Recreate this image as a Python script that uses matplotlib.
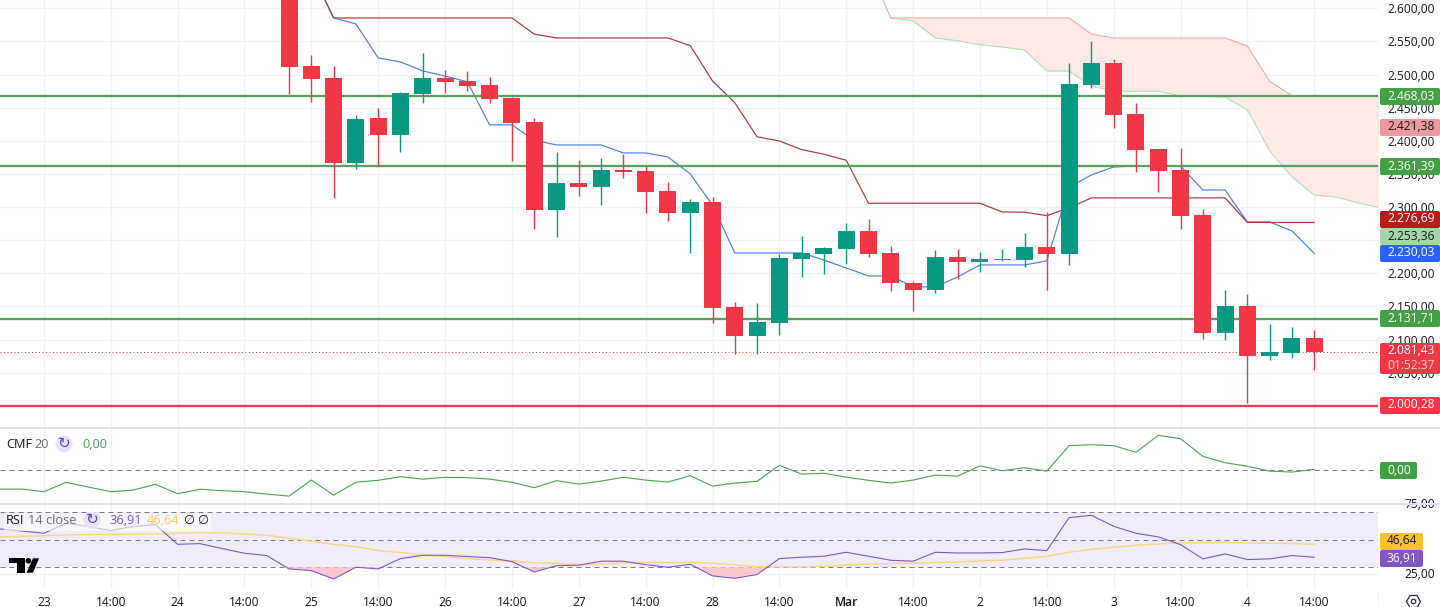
"""Recreates the ETH/USDT style 8h chart with Ichimoku, CMF and RSI panes."""

import matplotlib
matplotlib.use("Agg")
import matplotlib.pyplot as plt
from matplotlib.patches import Circle, FancyBboxPatch, Polygon, Rectangle
import numpy as np

plt.rcParams["font.family"] = ["Open Sans", "DejaVu Sans"]

W, H = 1440, 607

# candles, one per 8h
OPEN = [2673, 2513, 2494.8, 2366.6, 2434.5, 2409, 2470.7, 2494.8, 2490.3, 2484.3, 2464.6, 2428.4,
        2295.7, 2336.4, 2330, 2356, 2354.5, 2324, 2291.6, 2307.7, 2149, 2105.5, 2125, 2221.7,
        2229, 2236.7, 2264, 2230.7, 2186, 2174.3, 2224.7, 2217, 2220, 2220, 2240, 2229,
        2484.3, 2517.5, 2440.5, 2387.7, 2356, 2288, 2110, 2150.8, 2075, 2079, 2102.5]
HIGH = [2690, 2529.5, 2513, 2439, 2449.5, 2473.7, 2532.5, 2507, 2505.4, 2496.3, 2466, 2434.5,
        2383, 2371, 2374, 2380, 2362, 2338, 2312, 2315, 2157, 2154.7, 2229, 2256.4,
        2240, 2276, 2282, 2241, 2189, 2235, 2236.7, 2232, 2236.7, 2261, 2292.6, 2517.5,
        2550.7, 2523.5, 2457, 2387.7, 2389, 2297, 2175, 2169, 2123, 2119, 2114.6]
LOW = [2470.7, 2459, 2313.7, 2357.5, 2362, 2383, 2457, 2472.2, 2475.2, 2457, 2370, 2267,
       2255, 2316.8, 2303, 2344, 2291, 2279, 2230.7, 2125, 2078, 2078, 2107, 2195,
       2199, 2214.4, 2224.7, 2172.8, 2143, 2171, 2192, 2202, 2218.7, 2210, 2174.3, 2213,
       2479.7, 2419.4, 2353, 2322.8, 2267, 2101, 2099.5, 2004, 2069, 2072, 2054]
CLOSE = [2511.4, 2493.3, 2366.6, 2433, 2409, 2472.2, 2494.8, 2488.8, 2482.8, 2463, 2427, 2295.7,
         2336.4, 2330, 2356, 2353, 2322.8, 2291, 2307.7, 2148, 2105.5, 2126, 2223, 2230.7,
         2238, 2264, 2229, 2184.7, 2174.3, 2224.7, 2217, 2221.7, 2221.7, 2240, 2229, 2485.8,
         2517.5, 2439, 2386, 2354.5, 2286.6, 2110, 2150.8, 2075, 2081.5, 2102.5, 2081.4]

# ichimoku, each starts at a given candle number
BASE_START = 1
BASE = [2655, 2585.4, 2585.4, 2585.4, 2585.4, 2585.4, 2585.4, 2585.4, 2585.4, 2585.4, 2561,
        2555.2, 2555.2, 2555.2, 2555.2, 2555.2, 2555.2, 2543.6, 2490.3, 2457.5, 2406, 2399.7,
        2386.7, 2379.7, 2370.6, 2305.7, 2305.7, 2305.7, 2305.7, 2305.7, 2305.7, 2292.6, 2292.2,
        2287, 2298.7, 2313.8, 2313.8, 2313.8, 2313.8, 2313.8, 2313.8, 2313.8, 2276.7, 2276.7,
        2276.7, 2276.7]
CONV_START = 1
CONV = [2655, 2585.4, 2576.3, 2525, 2519, 2505.4, 2497.8, 2489, 2424, 2424, 2401, 2393.7, 2393.7,
        2393.7, 2381.7, 2381.7, 2375.6, 2350, 2303, 2230.7, 2230.7, 2230.7, 2230.7, 2220, 2208,
        2196, 2196, 2179.5, 2179.5, 2194.5, 2212.6, 2212.6, 2212.6, 2218.7, 2330, 2348.5, 2360.5,
        2362, 2362, 2362, 2325.8, 2325.8, 2277.5, 2277.5, 2264, 2230]
SPAN_START = 27
SPAN_A = [2585.4, 2580.8, 2555.2, 2551, 2545, 2541.6, 2537, 2505.4, 2505.4, 2482.8, 2475, 2475,
          2475, 2467.7, 2467, 2466, 2446.6, 2385, 2345.5, 2318, 2315, 2306, 2298.6]
SPAN_B = [2585.4, 2585.4, 2585.4, 2585.4, 2585.4, 2585.4, 2585.4, 2585.4, 2585.4, 2561, 2555.2,
          2555.2, 2555.2, 2555.2, 2555.2, 2555.2, 2543, 2490, 2468, 2468, 2468, 2468, 2468]
SPAN_B_LEAD = 2661

LEVELS_GREEN = [2468.03, 2361.39, 2131.71]
LEVEL_RED = 2000.28
LAST_PRICE = 2081.43

# lower panes start 13 candles left of the first candle on screen
PANE_START = -13
CMF = [-0.094, -0.094, -0.107, -0.06, -0.084, -0.107, -0.099, -0.07, -0.117, -0.095, -0.102, -0.107,
       -0.119, -0.129, -0.049, -0.124, -0.06, -0.05, -0.032, -0.044, -0.035, -0.037, -0.044, -0.06,
       -0.087, -0.052, -0.069, -0.054, -0.035, -0.049, -0.059, -0.027, -0.079, -0.064, -0.055, 0.025,
       -0.019, -0.015, -0.034, -0.05, -0.064, -0.049, -0.024, -0.029, 0.022, -0.002, 0.013, -0.004,
       0.123, 0.128, 0.123, 0.09, 0.175, 0.158, 0.07, 0.038, 0.02, -0.004, -0.009, 0.005]
RSI = [57.9, 56.4, 54.7, 62, 59.6, 56.7, 59.6, 61, 46.7, 47.2, 43.6, 40.2, 38.5,
       28.8, 27.6, 21.5, 30, 28.8, 36.3, 38.7, 38.7, 37.8, 37, 34.1, 26.6, 31.2,
       31.5, 34.4, 34.4, 31.9, 30, 32.2, 23.7, 22, 24.7, 36.3, 37.3, 38, 40.9, 38,
       35.1, 34.4, 40.9, 40.4, 40.4, 40.7, 43.3, 42.1, 66.1, 67.8, 59.8, 54.7, 52.1,
       46.5, 36.1, 39.7, 35.6, 36.1, 38.5, 37.3]
RSI_MA = [52.1, 52.5, 53, 53.5, 53.8, 53.8, 54, 54.2, 54.7, 55, 55, 54.2, 53.3,
          51.1, 48.9, 46.7, 45, 42.1, 40.7, 39, 37.8, 36.3, 35.3, 34.6, 33.2, 32.7,
          31.9, 32.2, 33.2, 33.6, 33.4, 33.6, 32.9, 31.7, 30.5, 30.2, 30.2, 30.5, 31.7,
          32.4, 32.7, 32.9, 33.4, 33.9, 34.6, 35.1, 36.5, 38, 40.9, 43.1, 44.5, 46, 47,
          47.7, 47.9, 48.2, 47.7, 47.5, 47.2, 46.7]

TIME_TICKS = list(range(-11, 47, 3))
TIME_LABELS = ["23", "14:00", "24", "14:00", "25", "14:00", "26", "14:00", "27", "14:00",
               "28", "14:00", "Mar", "14:00", "2", "14:00", "3", "14:00", "4", "14:00"]
PRICE_TICKS = list(range(2000, 2601, 50))
HIDDEN_TICKS = [2000, 2250]  # sit fully under the price tags

# tag text, top pixel, bottom pixel, right pixel, fill, text colour
TAGS = [
    ("2.468,03", 88, 105, 1440, "#43A047", "#FFFFFF"),
    ("2.421,38", 119, 136, 1440, "#EF9A9A", "#131722"),
    ("2.361,39", 158, 175, 1440, "#43A047", "#FFFFFF"),
    ("2.276,69", 211, 228, 1440, "#B71C1C", "#FFFFFF"),
    ("2.253,36", 228, 245, 1440, "#A5D6A7", "#131722"),
    ("2.230,03", 245, 262, 1440, "#2962FF", "#FFFFFF"),
    ("2.131,71", 310, 327, 1440, "#43A047", "#FFFFFF"),
    ("2.000,28", 397, 414, 1440, "#F23645", "#FFFFFF"),
    ("0,00", 462, 479, 1417, "#43A047", "#FFFFFF"),
    ("46,64", 533, 550, 1423, "#FBC02D", "#131722"),
    ("36,91", 550, 567, 1423, "#7E57C2", "#FFFFFF"),
]

RED = "#F23645"
GREEN = "#089981"
LEVEL_GREEN = "#5C9E5F"
GRID = "#F0F2F6"
SEP = "#E0E3EB"
DASH = "#787B86"
INK = "#131722"
PX = 0.72  # one pixel in points at dpi 100
FS = 12 * PX
X_LEFT, X_RIGHT = -12.97, 48.86


def pane(fig, top, bottom):
    ax = fig.add_axes([0, 1 - bottom / H, 1378 / W, (bottom - top) / H])
    ax.set_xlim(X_LEFT, X_RIGHT)
    ax.set_xticks(TIME_TICKS)
    ax.tick_params(length=0, labelbottom=False, labelleft=False)
    ax.grid(axis="x", color=GRID, lw=PX * 1.2, zorder=0)
    for s in ax.spines.values():
        s.set_visible(False)
    ax.set_axisbelow(True)
    return ax


def span_x(start, values):
    return np.arange(start, start + len(values))


def draw_main(ax):
    ax.set_ylim(1968, 2612.5)
    ax.set_yticks(PRICE_TICKS)
    ax.set_yticklabels(["" if p in HIDDEN_TICKS else f"{p // 1000}.{p % 1000:03d},00" for p in PRICE_TICKS])
    ax.yaxis.tick_right()
    ax.tick_params(axis="y", labelright=True, pad=56.7 * PX, labelsize=FS, labelcolor=INK, length=0)
    for label in ax.get_yticklabels():
        label.set_ha("right")
    ax.grid(axis="y", color=GRID, lw=PX * 1.2, zorder=0)

    sx = span_x(SPAN_START, SPAN_A)
    ax.fill_between(sx, SPAN_A, SPAN_B, color="#FDEAE7", lw=0, zorder=1)
    ax.plot(sx, SPAN_A, color="#B5DDB7", lw=PX * 1.1, zorder=2)
    ax.plot(np.r_[SPAN_START - 1, sx], np.r_[SPAN_B_LEAD, SPAN_B], color="#F2AAA6", lw=PX * 1.1, zorder=2)

    ax.plot(span_x(CONV_START, CONV), CONV, color="#4F7FE0", lw=PX * 1.2, zorder=3)
    ax.plot(span_x(BASE_START, BASE), BASE, color="#A93A3E", lw=PX * 1.2, zorder=3)

    for level in LEVELS_GREEN:
        ax.axhline(level, color=LEVEL_GREEN, lw=PX * 2.3, zorder=4)
    ax.axhline(LEVEL_RED, color="#E0404F", lw=PX * 2.3, zorder=4)
    ax.axhline(LAST_PRICE, color=RED, lw=PX, ls=(0, (1, 2.5)), zorder=4)

    n = np.arange(len(OPEN))
    op, hi, lo, cl = map(np.array, (OPEN, HIGH, LOW, CLOSE))
    colors = [GREEN if c > o else RED for o, c in zip(op, cl)]
    ax.vlines(n, lo, hi, colors=colors, lw=PX * 1.4, zorder=5)
    ax.bar(n, np.abs(cl - op), bottom=np.minimum(op, cl), width=17 / 22.29, color=colors, lw=0, zorder=6)


def draw_cmf(ax):
    ax.set_ylim(-0.1635, 0.2115)
    ax.axhline(0, color=DASH, lw=PX, ls=(0, (5, 4)), zorder=2)
    ax.plot(span_x(PANE_START, CMF), CMF, color="#4C9F54", lw=PX * 1.1, zorder=3)


def draw_rsi(ax):
    ax.set_ylim(14.2, 76)
    ax.axhspan(30, 70, color="#F0ECF9", lw=0, zorder=1)
    ax.axhline(25, color=GRID, lw=PX * 1.2, zorder=1)
    for level in (70, 50, 30):
        ax.axhline(level, color=DASH, lw=PX, ls=(0, (5, 4)), zorder=2)
    x = span_x(PANE_START, RSI)
    rsi = np.array(RSI)
    ax.fill_between(x, rsi, 30, where=rsi < 30, interpolate=True, color="#F9C9CF", lw=0, zorder=2)
    ax.plot(x, RSI_MA, color="#F9D77E", lw=PX * 1.4, zorder=3)
    ax.plot(x, RSI, color="#7E57C2", lw=PX * 1.1, zorder=4)
    ax.set_yticks([25])
    ax.set_xticklabels(TIME_LABELS)
    ax.tick_params(axis="x", labelbottom=True, pad=5, labelsize=FS, labelcolor=INK)
    for label in ax.get_xticklabels():
        if label.get_text() == "Mar":
            label.set_fontweight("semibold")


def draw_overlay(fig):
    ov = fig.add_axes([0, 0, 1, 1], zorder=10)
    ov.set_xlim(0, W)
    ov.set_ylim(H, 0)
    ov.axis("off")
    ov.patch.set_alpha(0)

    # right-hand labels that are not ticks of the panes
    ov.text(1434.7, 574, "25,00", ha="right", va="center", fontsize=FS, color=INK)
    ov.text(1434.7, 505, "75,00", ha="right", va="center", fontsize=FS, color=INK)
    ov.add_patch(Rectangle((1379, 496), 61, 7.5, color="white", lw=0, zorder=2))
    ov.plot([0, W], [427.7, 427.7], color=SEP, lw=PX * 2, zorder=3)
    ov.plot([0, W], [503.7, 503.7], color=SEP, lw=PX * 2, zorder=3)
    ov.plot([1378, 1378], [592, 603], color=GRID, lw=PX, zorder=3)

    for text, top, bottom, right, fill, fg in TAGS:
        ov.add_patch(FancyBboxPatch((1381, top + 1), right - 1382, bottom - top - 2,
                                    boxstyle="round,pad=1,rounding_size=2", fc=fill, ec="none", zorder=4))
        ha_x = 1434.7 if right == 1440 else (1381 + right) / 2
        ha = "right" if right == 1440 else "center"
        ov.text(ha_x, (top + bottom) / 2 - 0.5, text, ha=ha, va="center", fontsize=FS, color=fg, zorder=5)
    ov.add_patch(FancyBboxPatch((1381, 344), 58, 29, boxstyle="round,pad=1,rounding_size=2",
                                fc=RED, ec="none", zorder=4))
    ov.text(1434.7, 351, "2.081,43", ha="right", va="center", fontsize=FS, color="white", zorder=5)
    ov.text(1434.7, 365.5, "01:52:37", ha="right", va="center", fontsize=FS, color="#FBD5D8", zorder=5)

    # legends
    lf = 12.8 * PX
    ov.text(6, 444.5, "CMF", ha="left", va="center", fontsize=lf, color=INK)
    ov.text(34, 444.5, "20", ha="left", va="center", fontsize=lf, color="#6A6D78")
    ov.add_patch(Circle((64, 444), 8.5, fc="#E8E2F8", ec="none"))
    ov.text(64, 443.5, "↻", ha="center", va="center", fontsize=11, color="#5B3FD6", family="DejaVu Sans")
    ov.text(82, 444.5, "0,00", ha="left", va="center", fontsize=lf, color="#4C9F54")

    ov.add_patch(Rectangle((4, 513), 207, 18, fc="white", alpha=0.6, ec="none"))
    ov.text(6, 520.5, "RSI", ha="left", va="center", fontsize=lf, color=INK)
    ov.text(28, 520.5, "14 close", ha="left", va="center", fontsize=lf, color="#6A6D78")
    ov.add_patch(Circle((92, 520), 8.5, fc="#E8E2F8", ec="none"))
    ov.text(92, 519.5, "↻", ha="center", va="center", fontsize=11, color="#5B3FD6", family="DejaVu Sans")
    ov.text(109, 520.5, "36,91", ha="left", va="center", fontsize=lf, color="#7E57C2")
    ov.text(147, 520.5, "46,64", ha="left", va="center", fontsize=lf, color="#F7CB55")
    ov.text(189, 520.5, "∅", ha="center", va="center", fontsize=lf, color=INK)
    ov.text(203, 520.5, "∅", ha="center", va="center", fontsize=lf, color=INK)

    # logo
    ov.add_patch(Polygon([(9, 558), (25, 558), (25, 572.7), (16.7, 572.7), (16.7, 563), (9, 563)],
                         fc="black", ec="none"))
    ov.add_patch(Circle((28.4, 560.8), 2.8, fc="black", ec="none"))
    ov.add_patch(Polygon([(33, 558.3), (39, 558.3), (33, 572.7), (26.5, 572.7)], fc="black", ec="none"))

    # settings glyph
    ov.plot([1412.7], [601], marker="H", ms=10, mfc="none", mec="#2A2E39", mew=0.9)
    ov.plot([1412.7], [601], marker="o", ms=3.2, mfc="none", mec="#2A2E39", mew=0.9)


def main():
    fig = plt.figure(figsize=(W / 100, H / 100), dpi=100, facecolor="white")
    draw_main(pane(fig, 0, 427))
    draw_cmf(pane(fig, 428, 503))
    draw_rsi(pane(fig, 504, 589))
    draw_overlay(fig)
    fig.savefig("out.png", dpi=100)


if __name__ == "__main__":
    main()
